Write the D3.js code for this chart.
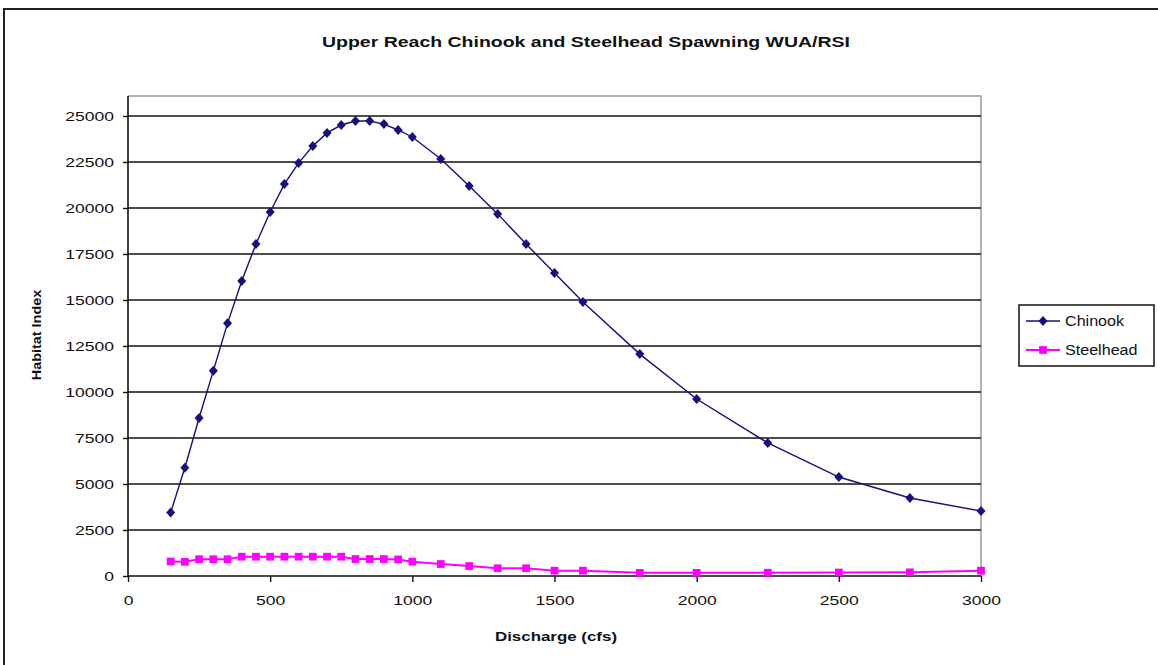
<!DOCTYPE html>
<html><head><meta charset="utf-8">
<script src="https://cdn.jsdelivr.net/npm/d3@7"></script>
<style>body{margin:0;background:#fff}text{font-family:"Liberation Sans",Arial,sans-serif}</style>
</head><body><svg id="c" width="1158" height="665"></svg>
<script>
const discharge = [150,200,250,300,350,400,450,500,550,600,650,700,750,800,850,900,950,1000,1100,1200,1300,1400,1500,1600,1800,2000,2250,2500,2750,3000];
const chinook = [3450,5880,8590,11150,13730,16030,18040,19780,21300,22450,23370,24080,24510,24730,24730,24560,24240,23860,22660,21200,19680,18040,16470,14890,12060,9620,7230,5380,4240,3530];
const steelhead = [790,770,910,910,910,1050,1050,1050,1050,1050,1050,1050,1050,920,920,920,900,780,650,540,420,420,290,290,170,170,180,190,200,290];
const yTicks = [0,2500,5000,7500,10000,12500,15000,17500,20000,22500,25000];
const xTicks = [0,500,1000,1500,2000,2500,3000];
const seriesNames = ["Chinook","Steelhead"];
const seriesColors = ["#16107e","#FF00FF"];

const svg = d3.select("#c");
const L=128,R=981,T=96,B=576;
const x = d3.scaleLinear().domain([0,3000]).range([L,R]);
const y = d3.scaleLinear().domain([0,25000]).range([B,T+20]);

function stretch(sel,f){sel.each(function(){const n=this;const w=n.getComputedTextLength();n.setAttribute("textLength",w*f);n.setAttribute("lengthAdjust","spacingAndGlyphs");});}

// outer frame
svg.append("path").attr("d","M4,665 V9 H1158").attr("fill","none").attr("stroke","#222").attr("stroke-width",2);

// title
const title = svg.append("text").attr("x",586).attr("y",47).attr("text-anchor","middle").attr("font-weight","bold").attr("font-size",14).attr("fill","#111").text("Upper Reach Chinook and Steelhead Spawning WUA/RSI");
title.attr("textLength",528).attr("lengthAdjust","spacingAndGlyphs");

// plot area border (top/right gray)
svg.append("path").attr("d",`M${L},${T} H${R} V${B}`).attr("fill","none").attr("stroke","#999").attr("stroke-width",1.5);

// gridlines
svg.append("g").selectAll("line").data(yTicks.filter(d=>d>0)).join("line")
 .attr("x1",L).attr("x2",R).attr("y1",d=>y(d)).attr("y2",d=>y(d)).attr("stroke","#111").attr("stroke-width",1.6);

// axes
const yAxis = svg.append("g").attr("transform",`translate(${L},0)`).call(d3.axisLeft(y).tickValues(yTicks).tickSize(5).tickPadding(9).tickFormat(d3.format("d")));
yAxis.select(".domain").attr("d",`M0,${B}V${T}`).attr("stroke","#111").attr("stroke-width",1.6);
yAxis.selectAll(".tick line").attr("stroke","#111").attr("stroke-width",1.4);
yAxis.selectAll("text").attr("font-size",13).attr("fill","#111").style("font-family","'Liberation Sans',Arial,sans-serif").call(stretch,1.35);

const xAxis = svg.append("g").attr("transform",`translate(0,${B})`).call(d3.axisBottom(x).tickValues(xTicks).tickSize(6).tickPadding(14).tickFormat(d3.format("d")));
xAxis.select(".domain").attr("d",`M${L},0H${R}`).attr("stroke","#111").attr("stroke-width",1.6);
xAxis.selectAll(".tick line").attr("stroke","#111").attr("stroke-width",1.4);
xAxis.selectAll("text").attr("font-size",13).attr("fill","#111").style("font-family","'Liberation Sans',Arial,sans-serif").call(stretch,1.35);

// axis titles
svg.append("text").attr("x",556).attr("y",641).attr("text-anchor","middle").attr("font-weight","bold").attr("font-size",13).attr("fill","#111").text("Discharge (cfs)").call(stretch,1.3);
svg.append("text").attr("transform","translate(41,335) rotate(-90)").attr("text-anchor","middle").attr("font-weight","bold").attr("font-size",12).attr("fill","#111").text("Habitat Index").call(stretch,1.2);

// series
const line = d3.line().x(d=>x(d[0])).y(d=>y(d[1]));
const diamondPath = "M0,-5L4.5,0L0,5L-4.5,0Z";
const square = d3.symbol().type(d3.symbolSquare).size(60);
const series = [chinook, steelhead];
series.forEach((vals,i)=>{
  const pts = discharge.map((d,j)=>[d,vals[j]]);
  svg.append("path").attr("d",line(pts)).attr("fill","none").attr("stroke",seriesColors[i]).attr("stroke-width",i?2:1.4);
  svg.append("g").selectAll("path").data(pts).join("path")
   .attr("transform",d=>`translate(${x(d[0])},${y(d[1])})`)
   .attr("d",i?square:diamondPath).attr("fill",seriesColors[i]);
});

// legend
const lg = svg.append("g");
lg.append("rect").attr("x",1019).attr("y",305).attr("width",135).attr("height",61).attr("fill","#fff").attr("stroke","#111").attr("stroke-width",1.5);
seriesNames.forEach((n,i)=>{
  const yy = 321 + i*29;
  lg.append("line").attr("x1",1026).attr("x2",1060).attr("y1",yy).attr("y2",yy).attr("stroke",seriesColors[i]).attr("stroke-width",i?2:1.4);
  lg.append("path").attr("transform",`translate(1043,${yy})`).attr("d",i?square:diamondPath).attr("fill",seriesColors[i]);
  lg.append("text").attr("x",1065).attr("y",yy+5).attr("font-size",14).attr("fill","#111").text(n).call(stretch,1.15);
});
</script></body></html>
